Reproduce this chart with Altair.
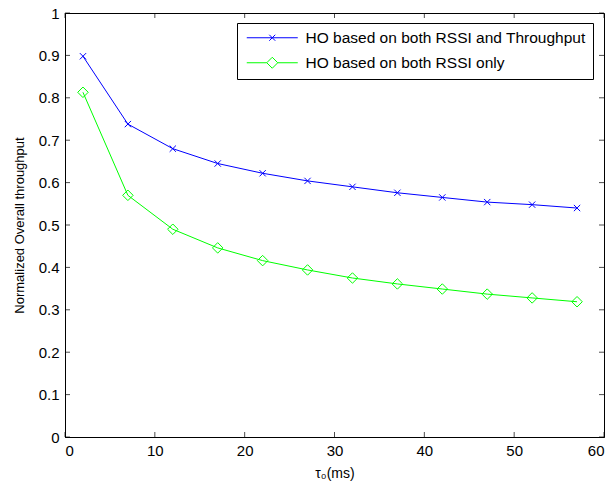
import altair as alt
import pandas as pd

# ---- data ----
tau = [2, 7, 12, 17, 22, 27, 32, 37, 42, 47, 52, 57]
both = [0.898, 0.738, 0.680, 0.645, 0.622, 0.604, 0.590, 0.576, 0.565, 0.554, 0.548, 0.540]
rssi_only = [0.813, 0.570, 0.490, 0.446, 0.416, 0.394, 0.375, 0.361, 0.349, 0.337, 0.328, 0.319]
names = ["HO based on both RSSI and Throughput", "HO based on both RSSI only"]
colors = ["#0000FF", "#00FF00"]
x_ticks = [0, 10, 20, 30, 40, 50, 60]
y_ticks = [0, 0.1, 0.2, 0.3, 0.4, 0.5, 0.6, 0.7, 0.8, 0.9, 1.0]

df = pd.DataFrame({
    "x": tau + tau,
    "v": both + rssi_only,
    "series": [names[0]] * len(tau) + [names[1]] * len(tau),
})
xt = pd.DataFrame({"x": x_ticks})
yt = pd.DataFrame({"v": y_ticks})

FONT = "Liberation Sans"
xscale = alt.Scale(domain=[0, 60], nice=False, zero=False)
yscale = alt.Scale(domain=[0, 1], nice=False, zero=False)
xaxis = alt.Axis(values=x_ticks, title="τ₀(ms)", format="d")
yaxis = alt.Axis(values=y_ticks, title="Normalized Overall throughput", format="~g")
X = alt.X("x:Q", scale=xscale, axis=xaxis)
Y = alt.Y("v:Q", scale=yscale, axis=yaxis)

def sub(i):
    return alt.Chart(df).transform_filter(alt.datum.series == names[i])

line_blue = sub(0).mark_line(strokeWidth=1, color=colors[0]).encode(x=X, y=Y)
line_green = sub(1).mark_line(strokeWidth=1, color=colors[1]).encode(x=X, y=Y)

xpath = "M-1,-1L1,1M-1,1L1,-1"
pts_blue = sub(0).mark_point(shape=xpath, size=40, filled=False, strokeWidth=1,
                             opacity=1, color=colors[0]).encode(x=X, y=Y)
pts_green = sub(1).mark_point(shape="diamond", size=110, filled=False, strokeWidth=1,
                              opacity=1, color=colors[1]).encode(x=X, y=Y)

# legend symbols: line segment with marker (units of 5px, symbol size 100)
leg_paths = [
    "M-1,0L9.2,0M3.5,-0.6L4.7,0.6M3.5,0.6L4.7,-0.6",
    "M-1,0L3,0M5.2,0L9.2,0M3,0L4.1,-1.1L5.2,0L4.1,1.1Z",
]
leg = alt.Legend(
    title=None, orient="none", legendX=172, legendY=10,
    labelFont=FONT, labelFontSize=15.5, labelColor="black", labelLimit=500,
    symbolSize=100, symbolStrokeWidth=1, symbolOpacity=1,
    strokeColor="black", fillColor="white", padding=7, rowPadding=8,
    labelOffset=46, cornerRadius=0,
)
legend_layer = alt.Chart(df).mark_point(opacity=0, filled=False).encode(
    x=X, y=Y,
    color=alt.Color("series:N", scale=alt.Scale(domain=names, range=colors), legend=leg),
    shape=alt.Shape("series:N", scale=alt.Scale(domain=names, range=leg_paths), legend=leg),
)

tk = dict(thickness=1, size=5, color="black")
t_bottom = alt.Chart(xt).mark_tick(orient="vertical", yOffset=-2.5, **tk).encode(x=X, y=alt.datum(0))
t_top = alt.Chart(xt).mark_tick(orient="vertical", yOffset=2.5, **tk).encode(x=X, y=alt.datum(1))
t_left = alt.Chart(yt).mark_tick(orient="horizontal", xOffset=2.5, **tk).encode(y=Y, x=alt.datum(0))
t_right = alt.Chart(yt).mark_tick(orient="horizontal", xOffset=-2.5, **tk).encode(y=Y, x=alt.datum(60))

chart = alt.layer(
    line_blue, line_green, pts_blue, pts_green, legend_layer,
    t_bottom, t_top, t_left, t_right
).properties(
    width=539, height=424,
    autosize=alt.AutoSizeParams(type="none"),
    padding={"left": 57, "top": 5, "right": 4, "bottom": 44},
    background="white",
).configure_view(
    stroke="black", strokeWidth=1
).configure_axis(
    grid=False, ticks=False, domain=True, domainColor="black", domainWidth=1,
    labelFont=FONT, labelFontSize=15, labelColor="black",
    titleFont=FONT, titleColor="black", titleFontWeight="normal",
).configure_axisX(
    labelPadding=6, titleFontSize=14, titlePadding=8,
).configure_axisY(
    labelPadding=6, titleFontSize=13, titlePadding=12,
)

chart.save("out.html", embed_options={"renderer": "svg", "actions": False})
